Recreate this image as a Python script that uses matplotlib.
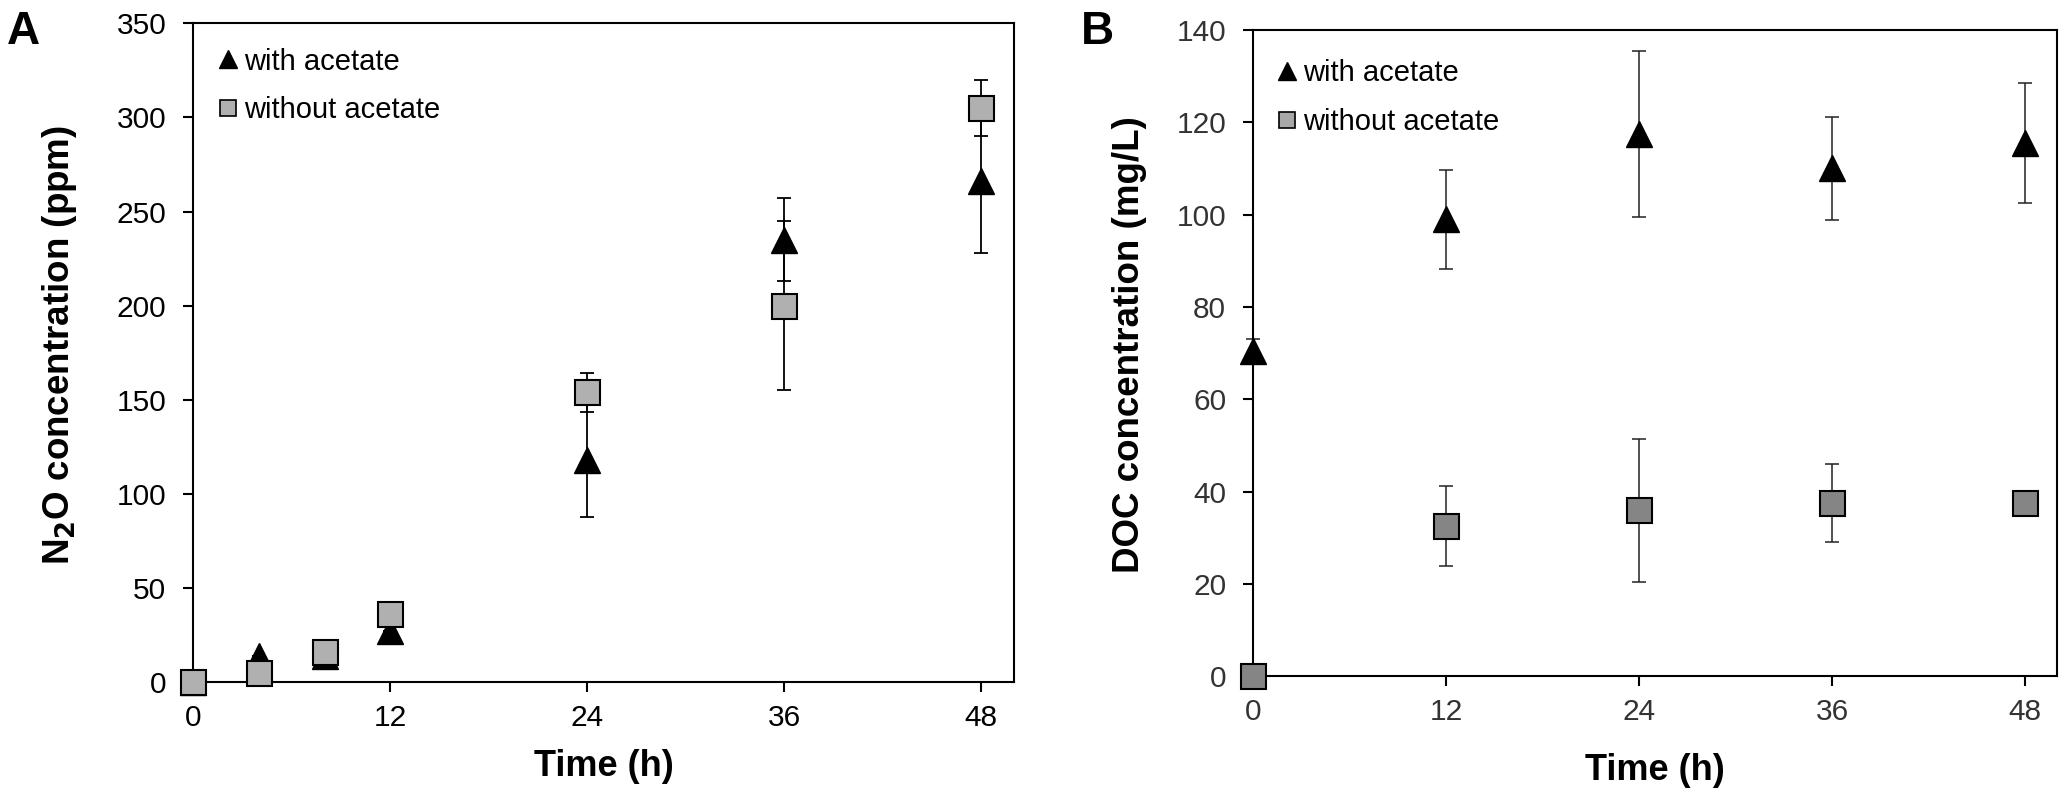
import matplotlib
matplotlib.use("Agg")
import matplotlib.pyplot as plt
from matplotlib.lines import Line2D

plt.rcParams['font.family'] = ['Liberation Sans', 'DejaVu Sans']

# ---- Data ----
time_a = [0, 4, 8, 12, 24, 36, 48]
n2o_with = [0, 14, 14, 27, 118, 235, 266]
n2o_with_err = [0, 0, 0, 0, 30, 22, 38]
n2o_without = [0, 5, 16, 36, 154, 200, 305]
n2o_without_err = [0, 0, 0, 0, 10.5, 45, 15]

time_b = [0, 12, 24, 36, 48]
doc_with = [70.5, 99, 117.5, 110, 115.5]
doc_with_err = [2.5, 10.7, 18, 11.2, 13]
doc_without = [0, 32.5, 36, 37.5, 37.5]
doc_without_err = [0, 8.7, 15.5, 8.5, 0]

xticks = [0, 12, 24, 36, 48]
yticks_a = [0, 50, 100, 150, 200, 250, 300, 350]
yticks_b = [0, 20, 40, 60, 80, 100, 120, 140]
labels = ['with acetate', 'without acetate']

fig = plt.figure(figsize=(20.67, 7.99), dpi=100)
axA = fig.add_axes([0.0935, 0.1461, 0.3971, 0.8247])
axB = fig.add_axes([0.6063, 0.1536, 0.3889, 0.8089])

ms = 19
light_gray = '#b0b0b0'
dark_gray = '#858585'

def style(ax, color):
    for s in ax.spines.values():
        s.set_linewidth(1.5)
        s.set_color('black')
    ax.tick_params(direction='out', length=7, width=1.5, labelsize=21.5,
                   labelcolor=color)
    ax.tick_params(axis='y', pad=12.5)
    ax.tick_params(axis='x', pad=9)

# ---- Panel A ----
axA.errorbar(time_a, n2o_with, yerr=n2o_with_err, fmt='none', ecolor='black',
             elinewidth=1.3, capsize=5, capthick=1.3, zorder=2, clip_on=False)
axA.errorbar(time_a, n2o_without, yerr=n2o_without_err, fmt='none', ecolor='black',
             elinewidth=1.3, capsize=5, capthick=1.3, zorder=2, clip_on=False)
axA.plot(time_a, n2o_with, linestyle='none', marker='^', ms=ms, color='black',
         mec='black', zorder=3, clip_on=False)
axA.plot(time_a, n2o_without, linestyle='none', marker='s', ms=ms-1, mfc=light_gray,
         mec='black', mew=1.5, zorder=4, clip_on=False)
axA.set_xlim(0, 50)
axA.set_ylim(0, 350)
axA.set_xticks(xticks)
axA.set_yticks(yticks_a)
style(axA, 'black')
axA.set_xlabel('Time (h)', fontsize=26, fontweight='bold')
axA.xaxis.set_label_coords(0.5, -0.1285)
axA.xaxis.label.set_va('center')
axA.set_ylabel('N$_\\mathbf{2}$O concentration (ppm)', fontsize=26.5, fontweight='bold')
axA.yaxis.set_label_coords(-0.1624, 0.512)
axA.yaxis.label.set_va('center')

hA = [Line2D([], [], linestyle='none', marker='^', ms=12.5, color='black'),
      Line2D([], [], linestyle='none', marker='s', ms=12, mfc=light_gray, mec='black', mew=1.2)]
axA.legend(hA, labels, loc='upper left', frameon=False, fontsize=21,
           handletextpad=0.15, labelspacing=0.7, handlelength=0.8,
           bbox_to_anchor=(-0.0037, 1.003), borderaxespad=0.5)

# ---- Panel B ----
axB.errorbar(time_b, doc_with, yerr=doc_with_err, fmt='none', ecolor='#222222',
             elinewidth=1.1, capsize=5, capthick=1.1, zorder=2, clip_on=False)
axB.errorbar(time_b, doc_without, yerr=doc_without_err, fmt='none', ecolor='#222222',
             elinewidth=1.1, capsize=5, capthick=1.1, zorder=2, clip_on=False)
axB.plot(time_b, doc_with, linestyle='none', marker='^', ms=ms, color='black',
         zorder=3, clip_on=False)
axB.plot(time_b, doc_without, linestyle='none', marker='s', ms=ms-1, mfc=dark_gray,
         mec='black', mew=1.5, zorder=4, clip_on=False)
axB.set_xlim(0, 50)
axB.set_ylim(0, 140)
axB.set_xticks(xticks)
axB.set_yticks(yticks_b)
style(axB, '#333333')
axB.set_xlabel('Time (h)', fontsize=26, fontweight='bold')
axB.xaxis.set_label_coords(0.5, -0.1465)
axB.xaxis.label.set_va('center')
axB.set_ylabel('DOC concentration (mg/L)', fontsize=26.5, fontweight='bold')
axB.yaxis.set_label_coords(-0.1534, 0.5135)
axB.yaxis.label.set_va('center')

hB = [Line2D([], [], linestyle='none', marker='^', ms=12.5, color='black'),
      Line2D([], [], linestyle='none', marker='s', ms=12, mfc='#a8a8a8', mec='black', mew=1.2)]
axB.legend(hB, labels, loc='upper left', frameon=False, fontsize=21,
           handletextpad=0.15, labelspacing=0.7, handlelength=0.8,
           bbox_to_anchor=(-0.0049, 0.995), borderaxespad=0.5)

fig.text(0.0034, 0.9455, 'A', fontsize=33, fontweight='bold', ha='left', va='baseline')
fig.text(0.523, 0.9455, 'B', fontsize=33, fontweight='bold', ha='left', va='baseline')

fig.savefig('out.png', dpi=100, facecolor='white')
